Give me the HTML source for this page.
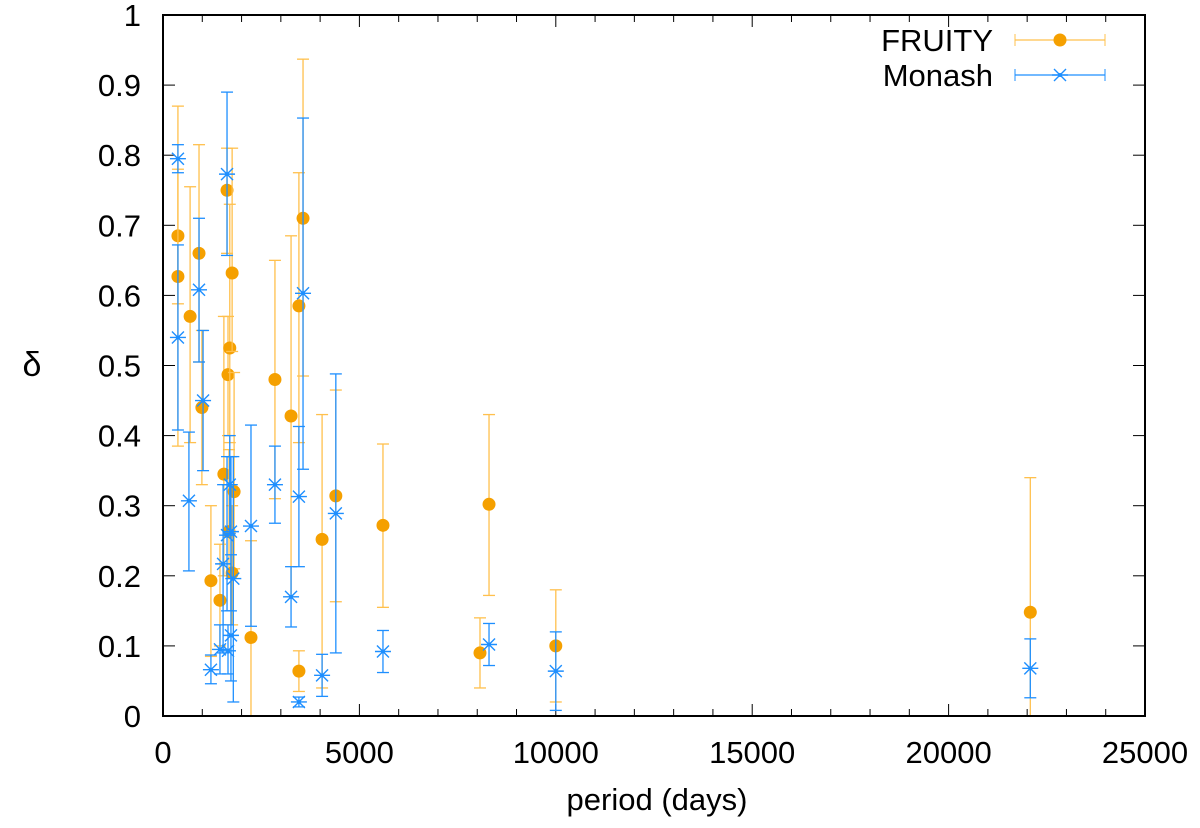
<!DOCTYPE html>
<html><head><meta charset="utf-8"><style>
body{margin:0;background:#fff}
text{font-family:"Liberation Sans",sans-serif;fill:#000}
</style></head><body>
<svg id="chart" width="1200" height="823" xmlns="http://www.w3.org/2000/svg">
<g id="grid"></g>
<g id="marks"></g>
<rect x="163" y="15" width="982" height="701" fill="none" stroke="#000" stroke-width="2"/>
<text x="657" y="810" font-size="31" text-anchor="middle">period (days)</text>
<text x="32" y="376" font-size="34" text-anchor="middle">δ</text>
<g>
<text x="993" y="51" font-size="31" text-anchor="end">FRUITY</text>
<text x="993" y="86" font-size="31" text-anchor="end">Monash</text>
<g id="legendMarks"></g>
</g>
</svg>
<script>
const xTicks=[0,5000,10000,15000,20000,25000];
const yTicks=[0,0.1,0.2,0.3,0.4,0.5,0.6,0.7,0.8,0.9,1];
const yTickLabels=["0","0.1","0.2","0.3","0.4","0.5","0.6","0.7","0.8","0.9","1"];
const fruityX=[380,380,690,917,990,1220,1450,1550,1630,1655,1680,1700,1760,1810,1760,2240,2850,3260,3460,3460,3565,4050,4400,5600,8070,8300,10000,22080];
const fruityY=[0.685,0.627,0.57,0.66,0.44,0.193,0.165,0.345,0.75,0.487,0.263,0.525,0.632,0.32,0.204,0.112,0.48,0.428,0.585,0.064,0.71,0.252,0.314,0.272,0.09,0.302,0.1,0.148];
const fruityLo=[0.588,0.385,0.39,0.505,0.33,0.085,0.1,0.2,0.66,0.4,0.2,0.39,0.52,0.21,0.13,0,0.31,0.17,0.39,0.035,0.485,0.04,0.163,0.155,0.04,0.172,0.02,0];
const fruityHi=[0.87,0.78,0.755,0.815,0.55,0.3,0.245,0.57,0.81,0.57,0.38,0.73,0.81,0.49,0.3,0.25,0.65,0.685,0.775,0.093,0.937,0.43,0.465,0.388,0.14,0.43,0.18,0.34];
const monashX=[380,380,660,917,1020,1220,1450,1530,1630,1630,1655,1700,1730,1730,1790,2240,2850,3260,3460,3460,3565,4050,4400,5600,8300,10000,22080];
const monashY=[0.795,0.54,0.307,0.608,0.45,0.066,0.095,0.217,0.773,0.258,0.093,0.33,0.263,0.115,0.196,0.271,0.33,0.17,0.313,0.02,0.603,0.058,0.289,0.092,0.102,0.064,0.068];
const monashLo=[0.775,0.408,0.207,0.505,0.35,0.046,0.06,0.09,0.657,0.15,0.06,0.26,0.15,0.05,0.02,0.128,0.275,0.127,0.213,0.013,0.352,0.028,0.09,0.062,0.072,0.008,0.026];
const monashHi=[0.815,0.672,0.405,0.71,0.55,0.087,0.13,0.33,0.89,0.37,0.13,0.40,0.37,0.23,0.37,0.415,0.385,0.213,0.413,0.027,0.853,0.088,0.488,0.122,0.132,0.12,0.11];

const X0=163,X1=1145,Y0=716,Y1=15;
const sx=v=>X0+(v/25000)*(X1-X0);
const sy=v=>Y0-v*(Y0-Y1);
const NS="http://www.w3.org/2000/svg";
function mk(tag,attrs,parent){const e=document.createElementNS(NS,tag);for(const k in attrs)e.setAttribute(k,attrs[k]);parent.appendChild(e);return e;}
const grid=document.getElementById('grid'),marks=document.getElementById('marks'),lg=document.getElementById('legendMarks');
for(let v=0;v<=25000;v+=1000){
  const major=v%5000===0,L=major?12:7,x=sx(v);
  const t=mk('line',{x1:x,x2:x,y1:Y0,y2:Y0-L,stroke:'#000','stroke-width':1},grid);
  
  const t2=mk('line',{x1:x,x2:x,y1:Y1,y2:Y1+L,stroke:'#000','stroke-width':1},grid);
  
}
xTicks.forEach(v=>{
  const t=mk('text',{x:sx(v),y:763,'font-size':31,'text-anchor':'middle'},grid);t.textContent=String(v);
  
});
yTicks.forEach((v,i)=>{
  const y=sy(v);
  const t=mk('line',{x1:X0,x2:X0+12,y1:y,y2:y,stroke:'#000'},grid);
  
  const t2=mk('line',{x1:X1,x2:X1-12,y1:y,y2:y,stroke:'#000'},grid);
  
  const l=mk('text',{x:141,y:y+11,'font-size':31,'text-anchor':'end'},grid);l.textContent=yTickLabels[i];
  
});
function errbar(parent,x,ylo,yhi,col){
  mk('line',{x1:x,x2:x,y1:ylo,y2:yhi,stroke:col,'stroke-width':1.3},parent);
  mk('line',{x1:x-6,x2:x+6,y1:ylo,y2:ylo,stroke:col,'stroke-width':1.3},parent);
  mk('line',{x1:x-6,x2:x+6,y1:yhi,y2:yhi,stroke:col,'stroke-width':1.3},parent);
}
function star(parent,x,y,col){
  const r=8;
  mk('path',{d:`M${x-r},${y}H${x+r}M${x-r*.75},${y-r*.75}L${x+r*.75},${y+r*.75}M${x-r*.75},${y+r*.75}L${x+r*.75},${y-r*.75}`,stroke:col,'stroke-width':1.4,fill:'none'},parent);
  mk('circle',{cx:x,cy:y,r:2,fill:col},parent);
}
const OR='#f5a000',ORL='#ffc04d',BL='#1e8fff';
fruityX.forEach((v,i)=>{
  const g=mk('g',{},marks);
  
  errbar(g,sx(v),sy(fruityLo[i]),sy(fruityHi[i]),ORL);
  mk('circle',{cx:sx(v),cy:sy(fruityY[i]),r:6.5,fill:OR},g);
});
monashX.forEach((v,i)=>{
  const g=mk('g',{},marks);
  
  errbar(g,sx(v),sy(monashLo[i]),sy(monashHi[i]),BL);
  star(g,sx(v),sy(monashY[i]),BL);
});
const lf=mk('g',{},lg);

mk('line',{x1:1015,x2:1105,y1:40,y2:40,stroke:ORL,'stroke-width':1.3},lf);
mk('line',{x1:1015,x2:1015,y1:34,y2:46,stroke:ORL},lf);
mk('line',{x1:1105,x2:1105,y1:34,y2:46,stroke:ORL},lf);
mk('circle',{cx:1060,cy:40,r:6.5,fill:OR},lf);
const lm=mk('g',{},lg);

mk('line',{x1:1015,x2:1105,y1:75,y2:75,stroke:BL,'stroke-width':1.3},lm);
mk('line',{x1:1015,x2:1015,y1:69,y2:81,stroke:BL},lm);
mk('line',{x1:1105,x2:1105,y1:69,y2:81,stroke:BL},lm);
star(lm,1060,75,BL);
</script>
</body></html>
